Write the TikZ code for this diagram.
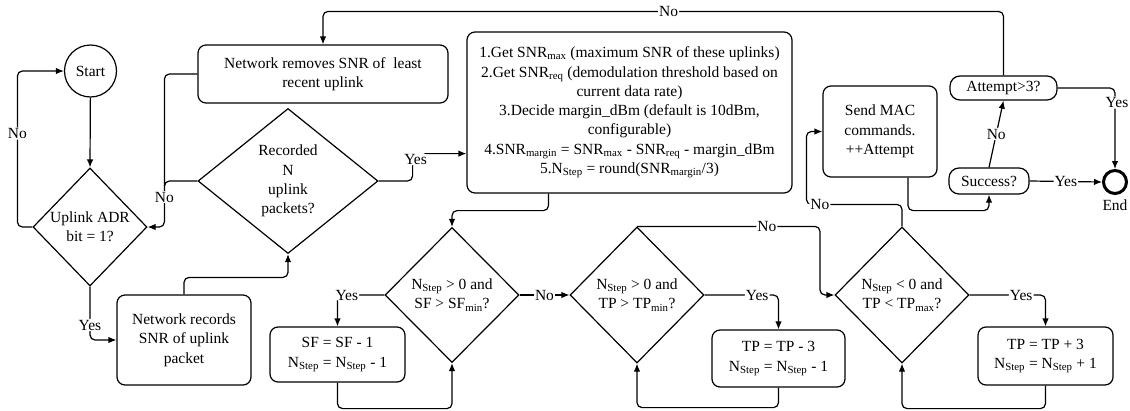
\documentclass[tikz,border=0pt]{standalone}
\usepackage{fontspec}
\setmainfont{Liberation Serif}
\newfontfamily\tms{Liberation Serif}
\usetikzlibrary{arrows.meta,shapes.geometric,calc}
\tikzset{
  ln/.style={line width=1.2pt, rounded corners=5pt},
  arr/.style={ln, -{Latex[length=8pt,width=6.5pt]}},
  rbox/.style={draw, line width=1.2pt, rounded corners=8pt, align=center, inner sep=0pt},
  pill/.style={draw, line width=1.2pt, rounded corners=10pt, align=center, inner sep=0pt},
  dia/.style={draw, diamond, line width=1.2pt, inner sep=0pt},
  lab/.style={fill=white, inner sep=1pt},
}
\newcommand{\sbs}[1]{\textsubscript{#1}}
\begin{document}
\begin{tikzpicture}[x=1pt,y=-1pt,font=\tms\fontsize{15.5}{19.3}\selectfont]
\useasboundingbox (0,0) rectangle (1130,410);
% nodes
\node[draw, circle, line width=1.2pt, minimum size=52pt, inner sep=0pt] (start) at (90.5,71) {Start};
\node[dia, minimum width=114pt, minimum height=118pt,
      label={[align=center]center:Uplink ADR\\bit = 1?}] (adr) at (90,227) {};
\node[rbox, minimum width=134pt, minimum height=90pt] (rec) at (184,340) {Network records\\SNR of uplink\\packet};
\node[dia, minimum width=180pt, minimum height=145pt,
      label={[align=center]center:Recorded\\N\\uplink\\packets?}] (recn) at (288,181) {};
\node[rbox, minimum width=250pt, minimum height=58pt] (rem) at (323,74) {Network removes SNR of\ \ least\\recent uplink};
\node[rbox, minimum width=325pt, minimum height=161pt] (calc) at (629.5,112.5) {%
1.Get SNR\sbs{max} (maximum SNR of these uplinks)\\
2.Get SNR\sbs{req} (demodulation threshold based on\\
current data rate)\\
3.Decide margin\_dBm (default is 10dBm,\\
configurable)\\
4.SNR\sbs{margin} = SNR\sbs{max} - SNR\sbs{req} - margin\_dBm\\
5.N\sbs{Step} = round(SNR\sbs{margin}/3)};
\node[dia, minimum width=134pt, minimum height=135pt,
      label={[align=center]center:N\sbs{Step} > 0 and\\SF > SF\sbs{min}?}] (sf) at (452,295) {};
\node[rbox, minimum width=135pt, minimum height=55pt] (sfb) at (337.5,354.5) {SF = SF - 1\\N\sbs{Step} = N\sbs{Step} - 1};
\node[dia, minimum width=134pt, minimum height=136pt,
      label={[align=center]center:N\sbs{Step} > 0 and\\TP > TP\sbs{min}?}] (tp) at (637,295) {};
\node[rbox, minimum width=133pt, minimum height=57pt] (tpb) at (778.5,358.5) {TP = TP - 3\\N\sbs{Step} = N\sbs{Step} - 1};
\node[dia, minimum width=134pt, minimum height=136pt,
      label={[align=center]center:N\sbs{Step} < 0 and\\TP < TP\sbs{max}?}] (tpx) at (902,295) {};
\node[rbox, minimum width=135pt, minimum height=58pt] (tpxb) at (1045.5,356) {TP = TP + 3\\N\sbs{Step} = N\sbs{Step} + 1};
\node[rbox, minimum width=114pt, minimum height=91pt] (mac) at (880,131.5) {Send MAC\\commands.\\++Attempt};
\node[pill, minimum width=80pt, minimum height=26pt] (succ) at (989,181) {Success?};
\node[pill, minimum width=107pt, minimum height=24pt] (att) at (1003.5,88) {Attempt>3?};
\node[draw, circle, line width=3pt, minimum size=23pt, inner sep=0pt,
      label={[yshift=-1pt]below:End}] (end) at (1115,182) {};
% connectors
\draw[arr] (start) -- (adr.north);
\draw[arr] (adr.west) -- ++(-15,0) |- node[lab,pos=0.3]{No} (start.west);
\draw[arr] (adr.south) |- node[lab,pos=0.36]{Yes} (rec.west);
\draw[arr] (rec.north) -- ++(0,-17) -| (recn.south);
\draw[arr] (recn.west) -- ++(-33,0) |- (adr.east);
\draw[ln] (rem.west) -- ++(-33,0) -- ++(0,112);
\path (recn.west) -- ++(-33,0) -- node[lab,pos=0.35]{No} ++(0,46);
\draw[arr] (recn.east) -- ++(34,0) |- node[lab,pos=0.4,xshift=3pt]{Yes} ($(calc.south west)+(0,-40)$);
\draw[arr] (att.north) -- ++(0,-64) -| node[lab,pos=0.246]{No} (rem.north);
\draw[arr] ($(calc.south)+(-81,0)$) -- ++(0,17) -| (sf.north);
\draw[arr] (sf.west) -| node[lab,pos=0.4]{Yes} (sfb.north);
\draw[arr] (sfb.south) -- ++(0,26) -| (sf.south);
\draw[arr] (sf.east) -- node[lab]{No} (tp.west);
\draw[arr] (tp.north) -- node[lab,pos=0.71]{No} ++(183,0) |- (tpx.west);
\draw[arr] (tp.east) -| node[lab,pos=0.356]{Yes} (tpb.north);
\draw[arr] (tpb.south) -- ++(0,20) -| (tp.south);
\draw[arr] (tpx.east) -| node[lab,pos=0.34]{Yes} (tpxb.north);
\draw[arr] (tpxb.south) -- ++(0,23) -| (tpx.south);
\draw[arr] (tpx.north) -- ++(0,-22) -| node[lab,pos=0.43]{No} ($(mac.west)+(-16,0)$) -- (mac.west);
\draw[arr] ($(mac.south)+(28,0)$) -- ++(0,33) -| (succ.south);
\draw[arr] (succ.east) -- node[lab]{Yes} (end.west);
\draw[arr] (succ.north) -- node[lab]{No} (att.south);
\draw[arr] (att.east) -| node[lab,pos=0.59,xshift=2pt]{Yes} (end.north);
\end{tikzpicture}
\end{document}
